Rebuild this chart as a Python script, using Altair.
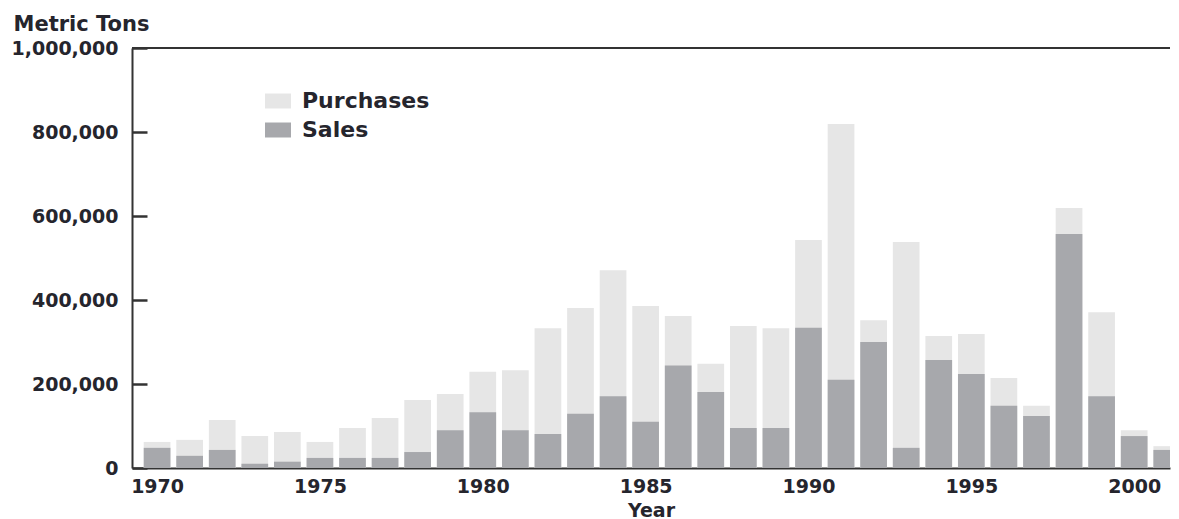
import altair as alt
import pandas as pd

years = list(range(1970, 2002))
purchases_k = [62, 67, 114, 76, 86, 62, 95, 119, 162, 176,
               229, 233, 333, 381, 471, 386, 362, 248, 338, 333,
               543, 819, 352, 538, 314, 319, 214, 148, 619, 371,
               90, 52]
sales_k = [48, 29, 43, 10, 15, 24, 24, 24, 38, 90,
           133, 90, 81, 129, 171, 110, 244, 181, 95, 95,
           334, 210, 300, 48, 257, 224, 148, 124, 557, 171,
           76, 43]
series_names = ["Purchases", "Sales"]
series_colors = ["#e6e6e6", "#a7a8ac"]
y_tick_values = [0, 200000, 400000, 600000, 800000, 1000000]
x_tick_values = [1970, 1975, 1980, 1985, 1990, 1995, 2000]
x_domain = [1969.23, 2001.10]
y_domain = [0, 1000000]

df = pd.DataFrame({
    "Year": years,
    "Purchases": [v * 1000 for v in purchases_k],
    "Sales": [v * 1000 for v in sales_k],
})

FONT = "DejaVu Sans"
TEXT = "#25252d"
AXIS = "#333333"

xscale = alt.Scale(domain=x_domain, nice=False, zero=False)
yscale = alt.Scale(domain=y_domain, nice=False)

# short inward ticks are drawn as dashed grid lines (15px dash, then a long gap)
yaxis = alt.Axis(values=y_tick_values, format=",d", title="Metric Tons",
                 ticks=False, grid=True, gridColor=AXIS, gridWidth=2.5,
                 gridDash=[15, 4000], gridOpacity=1,
                 domainColor=AXIS, domainWidth=2,
                 labelPadding=14, labelFont=FONT, labelFontSize=19,
                 labelFontWeight="bold", labelColor=TEXT,
                 titleFont=FONT, titleFontSize=21, titleFontWeight="bold",
                 titleColor=TEXT, titleAngle=0, titleAlign="left",
                 titleBaseline="alphabetic", titleX=-119, titleY=-18)

xaxis = alt.Axis(values=x_tick_values, format="d", title="Year",
                 ticks=False, grid=False, labelFlush=False,
                 domainColor=AXIS, domainWidth=2,
                 labelPadding=9, labelFont=FONT, labelFontSize=19,
                 labelFontWeight="bold", labelColor=TEXT,
                 titleFont=FONT, titleFontSize=19, titleFontWeight="bold",
                 titleColor=TEXT, titlePadding=5)

bars = (
    alt.Chart(df)
    .transform_fold(series_names, as_=["Series", "Value"])
    .transform_calculate(x0="datum.Year - 0.41", x1="datum.Year + 0.41")
    .mark_bar(clip=True)
    .encode(
        x=alt.X("x0:Q", scale=xscale, axis=xaxis),
        x2="x1:Q",
        y=alt.Y("Value:Q", stack=None, scale=yscale, axis=yaxis),
        y2=alt.datum(0),
        color=alt.Color("Series:N",
                        scale=alt.Scale(domain=series_names, range=series_colors),
                        legend=alt.Legend(orient="none", legendX=133, legendY=40,
                                          title=None, padding=0,
                                          symbolType="M-1,-0.577L1,-0.577L1,0.577L-1,0.577Z",
                                          symbolSize=676, symbolStrokeWidth=0,
                                          symbolOpacity=1,
                                          labelFont=FONT, labelFontSize=22,
                                          labelFontWeight="bold", labelColor=TEXT,
                                          labelOffset=11, rowPadding=5)),
        order=alt.Order("Series:N", sort="ascending"),
    )
)

# top frame line
frame_df = pd.DataFrame({"fy": [y_domain[1]], "fa": [x_domain[0]], "fb": [x_domain[1]]})
frame = (
    alt.Chart(frame_df)
    .mark_rule(stroke=AXIS, strokeWidth=2)
    .encode(y=alt.Y("fy:Q", scale=yscale, axis=yaxis),
            x=alt.X("fa:Q", scale=xscale, axis=xaxis),
            x2=alt.X2("fb:Q"))
)

chart = (
    alt.layer(bars, frame)
    .properties(width=1038, height=420, background="white",
                padding={"left": 3, "top": 5, "right": 0, "bottom": 0})
    .configure_view(stroke=None)
)

chart.save("out.html", embed_options={"renderer": "svg", "actions": False})
